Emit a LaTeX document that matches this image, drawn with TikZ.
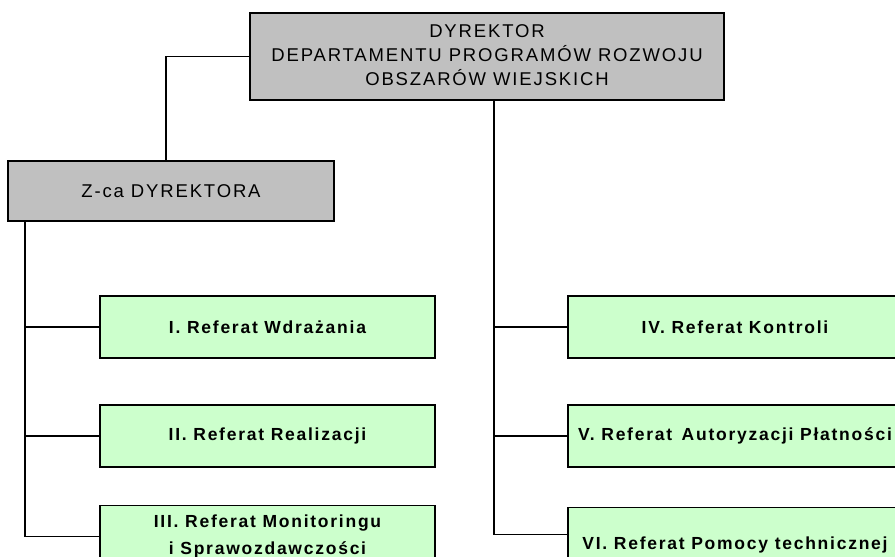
\documentclass[tikz,border=0pt]{standalone}
\usepackage{fontspec}
\setmainfont{Liberation Sans}
\usetikzlibrary{positioning}
\definecolor{headgrey}{HTML}{C0C0C0}
\definecolor{refgreen}{HTML}{CCFFCC}

\tikzset{
  headbox/.style={draw, fill=headgrey, line width=1.7pt, inner sep=0pt,
    font=\fontsize{18.5}{24}\selectfont\addfontfeature{LetterSpace=10}},
  refbox/.style={draw, fill=refgreen, line width=1.7pt, inner sep=0pt,
    minimum width=335pt, minimum height=62pt, align=center,
    font=\bfseries\fontsize{17.5}{27}\selectfont\addfontfeature{LetterSpace=10}},
  link/.style={line width=1.7pt}
}

\begin{document}
\begin{tikzpicture}[x=1pt,y=-1pt]
\useasboundingbox (0,0) rectangle (895,557);
\clip (0,0) rectangle (895,557);

\node[headbox, minimum width=474pt, minimum height=87pt] (dyr) at (487,56.5)
  {\raisebox{5pt}{\begin{tabular}{@{}c@{}}DYREKTOR\\DEPARTAMENTU PROGRAMÓW ROZWOJU\\OBSZARÓW WIEJSKICH\end{tabular}}};
\node[headbox, minimum width=326pt, minimum height=60pt] (zca) at (171,191) {Z-ca DYREKTORA};

\node[refbox] (ref1) at (267.5,327) {I. Referat Wdrażania};
\node[refbox, below=45pt of ref1] (ref2) {II. Referat Realizacji};
\node[refbox, below=37pt of ref2] (ref3) {III. Referat Monitoringu\\i Sprawozdawczości};

\node[refbox, minimum width=334pt] (ref4) at (735,327) {IV. Referat Kontroli};
\node[refbox, minimum width=334pt, below=45pt of ref4] (ref5) {V. Referat \,Autoryzacji Płatności};
\node[refbox, minimum width=334pt, minimum height=76pt, below=39pt of ref5] (ref6) {VI. Referat Pomocy technicznej};

\coordinate (lspine) at ([xshift=18pt]zca.south west);
\coordinate (rspine) at ([xshift=7pt]dyr.south);

\draw[link] (dyr.west) -| ([xshift=-5pt]zca.north);
\draw[link] (lspine) |- (ref3.west);
\draw[link] (ref1.west) -- (ref1.west -| lspine);
\draw[link] (ref2.west) -- (ref2.west -| lspine);

\draw[link] (rspine) |- ([yshift=11pt]ref6.west);
\draw[link] (ref4.west) -- (ref4.west -| rspine);
\draw[link] (ref5.west) -- (ref5.west -| rspine);
\end{tikzpicture}
\end{document}
